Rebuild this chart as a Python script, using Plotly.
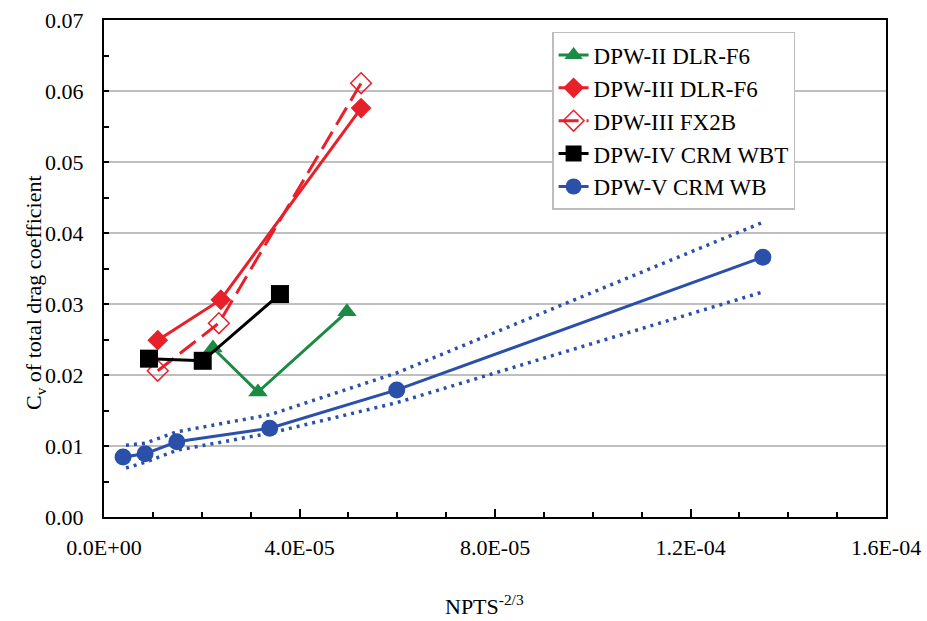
import plotly.graph_objects as go

# ---- data ----
dpw2_x = [2.23e-5, 3.15e-5, 4.97e-5]
dpw2_y = [0.0238, 0.0176, 0.0289]

dpw3_f6_x = [1.10e-5, 2.39e-5, 5.26e-5]
dpw3_f6_y = [0.0249, 0.0306, 0.0576]

dpw3_fx2b_x = [1.10e-5, 2.35e-5, 5.26e-5]
dpw3_fx2b_y = [0.0206, 0.0273, 0.0611]

dpw4_x = [0.92e-5, 2.02e-5, 3.60e-5]
dpw4_y = [0.0223, 0.0220, 0.0314]

dpw5_x = [0.39e-5, 0.84e-5, 1.49e-5, 3.39e-5, 5.99e-5, 13.48e-5]
dpw5_y = [0.00845, 0.0089, 0.0106, 0.0125, 0.0179, 0.0366]

bound_x = [0.45e-5, 0.84e-5, 1.49e-5, 3.39e-5, 5.99e-5, 13.48e-5]
upper_y = [0.0101, 0.0104, 0.0120, 0.0144, 0.0203, 0.0415]
lower_y = [0.0069, 0.0077, 0.0094, 0.0118, 0.0161, 0.0317]

x_tickvals = [0, 4e-5, 8e-5, 1.2e-4, 1.6e-4]
x_ticktext = ["0.0E+00", "4.0E-05", "8.0E-05", "1.2E-04", "1.6E-04"]
y_tickvals = [0, 0.01, 0.02, 0.03, 0.04, 0.05, 0.06, 0.07]
y_ticktext = ["0.00", "0.01", "0.02", "0.03", "0.04", "0.05", "0.06", "0.07"]

GREEN = "#1b8a43"
RED = "#e8202a"
BLACK = "#000000"
BLUE = "#2b50aa"
FONT = "Liberation Serif, Times New Roman, serif"
FS = 22

fig = go.Figure()

# bounds (dotted)
fig.add_trace(go.Scatter(x=bound_x, y=upper_y, mode="lines", showlegend=False,
                         line=dict(color=BLUE, width=3.5, dash="3px,5px"), hoverinfo="skip"))
fig.add_trace(go.Scatter(x=bound_x, y=lower_y, mode="lines", showlegend=False,
                         line=dict(color=BLUE, width=3.5, dash="3px,5px"), hoverinfo="skip"))

fig.add_trace(go.Scatter(x=dpw2_x, y=dpw2_y, mode="lines+markers", name="DPW-II DLR-F6",
                         legendgroup="a",
                         line=dict(color=GREEN, width=3),
                         marker=dict(symbol="triangle-up", size=17, color=GREEN)))
fig.add_trace(go.Scatter(x=dpw3_f6_x, y=dpw3_f6_y, mode="lines+markers", name="DPW-III DLR-F6",
                         legendgroup="b",
                         line=dict(color=RED, width=3),
                         marker=dict(symbol="diamond", size=16, color=RED)))
fig.add_trace(go.Scatter(x=dpw3_fx2b_x, y=dpw3_fx2b_y, mode="lines+markers", name="DPW-III FX2B",
                         legendgroup="c",
                         line=dict(color=RED, width=3, dash="20px,8px"),
                         marker=dict(symbol="diamond-open", size=16, color=RED,
                                     line=dict(width=1.5, color=RED))))
fig.add_trace(go.Scatter(x=dpw4_x, y=dpw4_y, mode="lines+markers", name="DPW-IV CRM WBT",
                         legendgroup="d",
                         line=dict(color=BLACK, width=3),
                         marker=dict(symbol="square", size=18, color=BLACK)))
fig.add_trace(go.Scatter(x=dpw5_x, y=dpw5_y, mode="lines+markers", name="DPW-V CRM WB",
                         legendgroup="e",
                         line=dict(color=BLUE, width=3),
                         marker=dict(symbol="circle", size=17, color=BLUE)))

fig.update_layout(
    width=927, height=621,
    margin=dict(l=104, r=41, t=20, b=104),
    paper_bgcolor="white", plot_bgcolor="white",
    font=dict(family=FONT, size=FS, color="black"),
    legend=dict(x=0.573, y=0.976, xanchor="left", yanchor="top",
                bordercolor="#bdbdbd", borderwidth=1.5, bgcolor="white",
                font=dict(family=FONT, size=23), traceorder="grouped",
                tracegroupgap=0),
    xaxis=dict(range=[0, 1.6e-4], tickvals=x_tickvals, ticktext=x_ticktext,
               showgrid=False, zeroline=False, automargin=False,
               ticklabeloverflow="allow", ticklabelstandoff=10,
               showline=True, linecolor="black", linewidth=2, mirror=True,
               ticks="inside", ticklen=8, tickwidth=1.5, tickcolor="black",
               minor=dict(dtick=1e-5, ticks="inside", ticklen=5, tickwidth=1.5, tickcolor="black"),
               tickfont=dict(family=FONT, size=FS)),
    yaxis=dict(range=[0, 0.07], tickvals=y_tickvals, ticktext=y_ticktext,
               showgrid=True, gridcolor="#bfbfbf", gridwidth=1.5, zeroline=False,
               automargin=False, ticklabeloverflow="allow", ticklabelstandoff=14,
               showline=True, linecolor="black", linewidth=2, mirror=True,
               ticks="inside", ticklen=5, tickwidth=1.5, tickcolor="black",
               minor=dict(dtick=0.005, ticks="inside", ticklen=5, tickwidth=1.5, tickcolor="black"),
               tickfont=dict(family=FONT, size=FS)),
    annotations=[
        dict(text="NPTS<sup>-2/3</sup>", xref="paper", yref="paper",
             x=0.487, y=-0.177, xanchor="center", yanchor="middle", showarrow=False,
             font=dict(family=FONT, size=FS)),
        dict(text="C<sub>v</sub> of total drag coefficient", xref="paper", yref="paper",
             x=-0.088, y=0.451, xanchor="center", yanchor="middle", textangle=-90,
             showarrow=False, font=dict(family=FONT, size=FS)),
    ],
)

# remove the browser's default 8px body margin so the figure fills the window
fig.write_html("out.html", config={"displayModeBar": False},
               post_script="document.body.style.margin='0';")
